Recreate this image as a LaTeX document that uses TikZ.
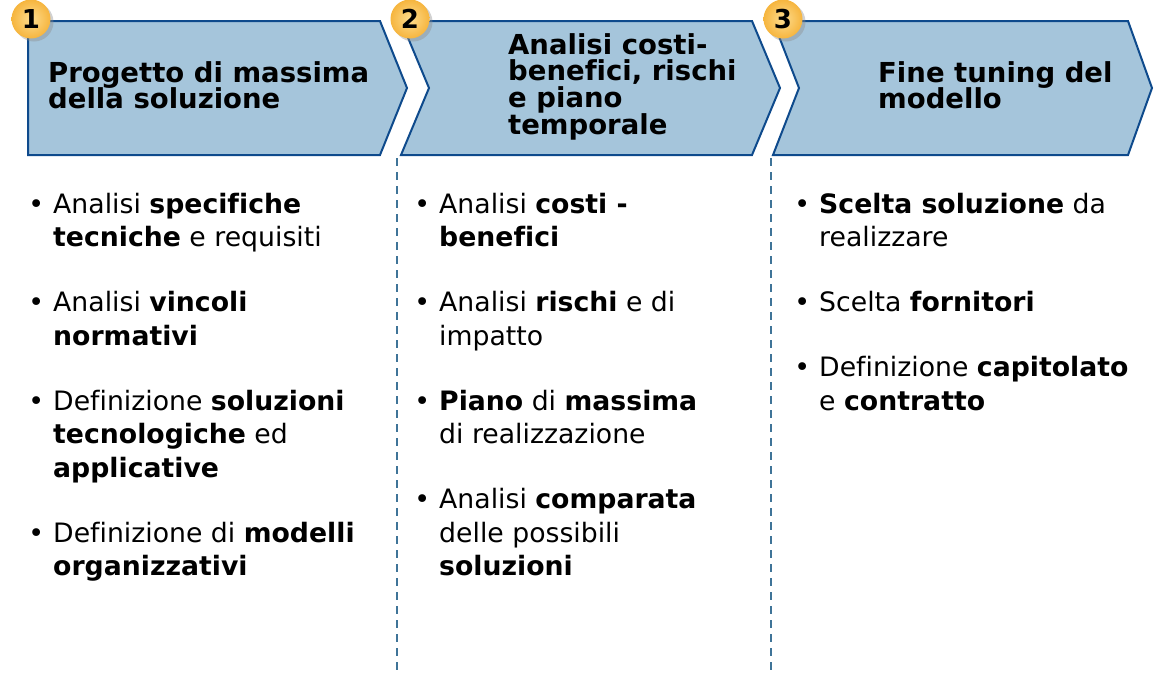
\documentclass[tikz,border=0pt]{standalone}
\usepackage{fontspec}
\setmainfont[Ligatures=NoCommon]{DejaVu Sans}

\definecolor{chevfill}{HTML}{A5C5DB}
\definecolor{chevline}{HTML}{0E4A8C}
\definecolor{badgegold}{HTML}{F6B53E}
\definecolor{badgelight}{HTML}{FDDC8E}
\definecolor{sepline}{HTML}{3F7498}

\newcommand{\bulletfirst}{\leavevmode\llap{•\hspace{9pt}}}
\newcommand{\bulletnext}{\par\vspace{31.5pt}\leavevmode\llap{•\hspace{9pt}}}

\tikzset{
  chevron/.style={fill=chevfill, draw=chevline, line width=2pt},
  badge/.style={circle, minimum size=39pt, inner sep=0pt, inner color=badgelight, outer color=badgegold, font=\fontsize{26}{26}\selectfont\bfseries},
  badgeshadow/.style={fill=black!45, opacity=.4},
  phasetitle/.style={anchor=base west, inner sep=0pt, font=\fontsize{27.5}{26.8}\selectfont\bfseries},
  phasebody/.style={anchor=base west, inner sep=0pt, font=\fontsize{26.7}{33.5}\selectfont},
  separator/.style={draw=sepline, line width=2pt, dash pattern=on 8pt off 6pt}
}

\begin{document}
\begin{tikzpicture}[x=1pt, y=-1pt]
\useasboundingbox (0,0) rectangle (1157,673);

% frecce delle fasi
\draw[chevron] (28,21) -- (380,21) -- (407,88) -- (380,155) -- (28,155) -- cycle;
\draw[chevron] (401,21) -- (752,21) -- (780,88) -- (752,155) -- (401,155) -- (429,88) -- cycle;
\draw[chevron] (773,21) -- (1128,21) -- (1152,88) -- (1128,155) -- (773,155) -- (799,88) -- cycle;

% separatori
\coordinate (sepAtop) at (397,158);
\coordinate (sepAbot) at (397,673);
\coordinate (sepBtop) at (771,158);
\coordinate (sepBbot) at (771,673);
\draw[separator] (sepAtop) -- (sepAbot);
\draw[separator] (sepBtop) -- (sepBbot);

% numeri
\fill[badgeshadow] (34,22) circle (19.5);
\fill[badgeshadow] (413,22) circle (19.5);
\fill[badgeshadow] (786,22) circle (19.5);
\node[badge] (num1) at (31,19) {1};
\node[badge] (num2) at (410,19) {2};
\node[badge] (num3) at (783,19) {3};

% titoli
\node[phasetitle] (title1) at (48,82) {\parbox[t]{340pt}{\lineskiplimit=-100pt Progetto di massima\\della soluzione}};
\node[phasetitle] (title2) at (508,54) {\parbox[t]{260pt}{\lineskiplimit=-100pt Analisi costi-\\benefici, rischi\\e piano\\temporale}};
\node[phasetitle] (title3) at (878,82) {\parbox[t]{260pt}{\lineskiplimit=-100pt Fine tuning del\\modello}};

% attivita
\node[phasebody] (body1) at (53,213) {\parbox[t]{340pt}{%
\bulletfirst Analisi \textbf{specifiche}\\\textbf{tecniche} e requisiti
\bulletnext Analisi \textbf{vincoli}\\\textbf{normativi}
\bulletnext Definizione \textbf{soluzioni}\\\textbf{tecnologiche} ed\\\textbf{applicative}
\bulletnext Definizione di \textbf{modelli}\\\textbf{organizzativi}}};
\node[phasebody] (body2) at (439,213) {\parbox[t]{330pt}{%
\bulletfirst Analisi \textbf{costi -}\\\textbf{benefici}
\bulletnext Analisi \textbf{rischi} e di\\impatto
\bulletnext \textbf{Piano} di \textbf{massima}\\di realizzazione
\bulletnext Analisi \textbf{comparata}\\delle possibili\\\textbf{soluzioni}}};
\node[phasebody] (body3) at (819,213) {\parbox[t]{330pt}{%
\bulletfirst \textbf{Scelta soluzione} da\\realizzare
\bulletnext Scelta \textbf{fornitori}
\bulletnext Definizione \textbf{capitolato}\\e \textbf{contratto}}};
\end{tikzpicture}
\end{document}
